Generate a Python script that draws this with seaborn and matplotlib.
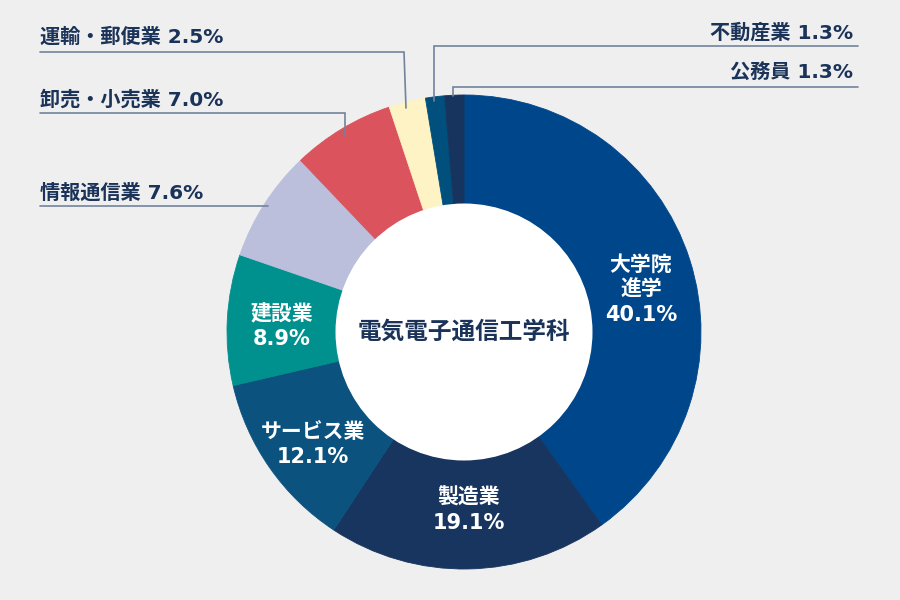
import matplotlib
matplotlib.use("Agg")
import matplotlib.pyplot as plt
from matplotlib.patches import Circle
import seaborn as sns

# ---- data ----
categories = ["大学院進学", "製造業", "サービス業", "建設業", "情報通信業",
              "卸売・小売業", "運輸・郵便業", "不動産業", "公務員"]
values = [40.1, 19.1, 12.1, 8.9, 7.6, 7.0, 2.5, 1.3, 1.3]
center_title = "電気電子通信工学科"

# ---- styles ----
colors = ["#00468a", "#17355f", "#0b527e", "#00918e", "#bbbfdc",
          "#db535c", "#fdf3c5", "#004f7c", "#17345e"]
BG = "#efefef"
NAVY = "#1b3358"
LINE = "#72839c"
FAM = ["DejaVu Sans", "Noto Sans CJK JP"]

sns.set_theme(style="white")
plt.rcParams["font.family"] = FAM

fig = plt.figure(figsize=(9, 6), dpi=100, facecolor=BG)
ax = fig.add_axes([0, 0, 1, 1])
ax.set_facecolor(BG)

H = 600
def Y(y):
    return H - y

CX, CY, R_OUT, R_IN = 464, 332, 237, 128

wedges, _ = ax.pie(values, colors=colors, startangle=90, counterclock=False,
                   radius=R_OUT, center=(CX, Y(CY)), frame=True,
                   wedgeprops=dict(width=R_OUT - R_IN, linewidth=0.6))
for w, c in zip(wedges, colors):
    w.set_edgecolor(c)
ax.add_patch(Circle((CX, Y(CY)), R_IN + 0.5, facecolor="white", edgecolor="none", zorder=3))

ax.set_xlim(0, 900)
ax.set_ylim(0, 600)
ax.set_aspect("equal")
ax.axis("off")

# centre title
ax.text(CX, Y(332), center_title, ha="center", va="center", fontsize=17,
        fontweight="bold", color=NAVY, zorder=5)

# inside labels (white)
inside = [
    (0, ["大学院", "進学", f"{values[0]:.1f}%"], 641, [265, 290, 315]),
    (1, ["製造業", f"{values[1]:.1f}%"], 469, [497, 523]),
    (2, ["サービス業", f"{values[2]:.1f}%"], 313, [432, 457]),
    (3, ["建設業", f"{values[3]:.1f}%"], 282, [314, 339]),
]
for idx, lines, x, ys in inside:
    for t, yy in zip(lines, ys):
        ax.text(x, Y(yy), t, ha="center", va="center", fontsize=15,
                fontweight="bold", color="white", zorder=5)

# outside labels with leader lines
outside = [
    (7, 853, 33, "right", [(858, 46), (434, 46), (434, 101)]),
    (8, 853, 73, "right", [(858, 87), (453, 87), (453, 96)]),
    (6, 40, 37, "left", [(40, 52), (404, 52), (406, 108)]),
    (5, 40, 100, "left", [(40, 113), (345, 113), (345, 136)]),
    (4, 40, 193, "left", [(40, 206), (268, 206)]),
]
for idx, x, y, ha, pts in outside:
    ax.text(x, Y(y), f"{categories[idx]} {values[idx]:.1f}%", ha=ha, va="center",
            fontsize=14.5, fontweight="bold", color=NAVY, zorder=5)
    ax.plot([p[0] for p in pts], [Y(p[1]) for p in pts], color=LINE, lw=1.2,
            solid_joinstyle="miter", zorder=4)

fig.savefig("out.png", dpi=100, facecolor=BG)
